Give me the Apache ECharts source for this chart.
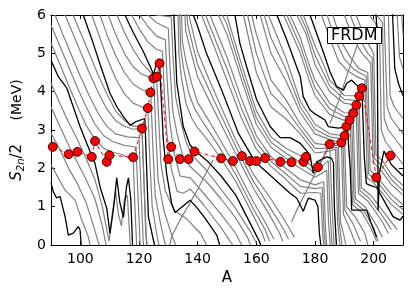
<!DOCTYPE html>
<html><head><meta charset="utf-8">
<script src="https://cdn.jsdelivr.net/npm/echarts@6/dist/echarts.min.js"></script>
<style>html,body{margin:0;padding:0;background:#fff}#c{width:415px;height:296px}</style>
</head><body><div id="c"></div>
<script>
// x tick labels
const xTicks = [100,120,140,160,180,200];
// red r-process path points
const pathA = [90.6,96.0,99.0,103.9,105.0,109.0,109.9,118.0,121.0,123.0,123.9,124.9,126.1,127.0,130.0,131.0,134.0,136.9,138.9,148.0,152.0,155.1,157.9,160.0,163.0,168.2,172.0,176.1,176.9,181.0,185.0,189.0,190.1,190.7,191.8,193.0,194.1,195.1,196.0,200.9,205.7];
const pathS = [2.56,2.37,2.43,2.30,2.71,2.17,2.34,2.29,3.04,3.57,3.98,4.35,4.39,4.74,2.24,2.56,2.24,2.24,2.44,2.26,2.19,2.32,2.19,2.19,2.27,2.17,2.16,2.17,2.30,2.03,2.63,2.67,2.85,3.09,3.26,3.44,3.65,3.89,4.09,1.76,2.33];

// isotopic chains [A, S2n/2]
const z30 = [[90,1.62],[90.8,1.39],[91.9,1.23],[93.1,1.26],[94.8,0.74],[95.9,0.26],[97.6,0.31],[99.3,0.48],[99.9,0.39],[100.3,0]];
const z31 = [[90,2.09],[92.5,1.75],[94.8,1.43],[98.2,1.17],[100.5,0.65],[102.7,0.22],[103.3,0]];
const z32 = [[90,2.92],[93,2.5],[96,2.0],[99,1.6],[102,1.1],[104.5,0.5],[106,0.1],[106.5,0]];
const z33 = [[90,3.6],[93,3.1],[96,2.6],[99,2.15],[102,1.7],[105,1.2],[107.5,0.5],[108.5,0.1],[108.8,0]];
const z34 = [[90,4.22],[93,3.7],[96,3.2],[99,2.75],[102,2.25],[105,1.7],[107.5,1.0],[109,0.4],[109.8,0.1],[111,0.9],[112,1.4],[113,0.8],[114,0.5],[115,1.2],[116,1.3],[116.8,0.3],[117,0]];
const z35 = [[90,4.82],[92.5,4.39],[95.4,4.09],[99.9,3.09],[102.2,2.65],[105,2.13],[106.7,1.52],[109,0.96],[110.1,0.3],[110.6,0.25],[111.4,1.0],[112.4,1.75],[113.5,1.1],[114.7,0.72],[115.7,1.5],[116.4,1.75],[117.2,1.2],[117.8,0]];
const z36 = [[90,5.27],[93,4.72],[96,4.17],[99,3.62],[102,3.12],[105,2.75],[108,2.52],[111,2.42],[114,2.36],[116,2.3],[118,2.29],[118.6,1.0],[119.2,0]];
const z37 = [[90,5.74],[93,5.2],[96,4.65],[99,4.1],[102,3.6],[105,3.15],[108,2.85],[111,2.7],[115,2.6],[119,2.55],[119.7,1.2],[120.4,0]];
const z38 = [[91.4,6],[94,5.5],[97,4.95],[100,4.4],[103,3.9],[106,3.45],[109,3.1],[112,2.9],[116,2.82],[120,2.8],[120.7,1.4],[121.5,0]];
const z38x = [[94.8,6],[97,5.6],[100,5.05],[103,4.5],[106,4.0],[109,3.55],[112,3.25],[115,3.1],[118,3.02],[121,3.04],[121.6,1.8],[122.3,0.3],[122.6,0]];
const z39 = [[97.5,6],[100,5.55],[103,5.0],[106,4.45],[109,3.95],[112,3.5],[115,3.25],[118,3.1],[121,3.1],[121.7,1.7],[122.5,0.2],[122.8,0]];
const z40 = [[101,6],[104,5.35],[107,4.65],[110.1,3.96],[112.5,3.6],[114.7,3.35],[117,3.12],[119,3.22],[122,3.3],[122.6,2.0],[123.2,0.74],[124.9,0.13],[125.3,0]];
const z41 = [[103.9,6],[106,5.55],[109,4.9],[112,4.35],[115,3.95],[118,3.7],[121,3.6],[123,3.57],[123.7,2.2],[124.5,1.0],[126,0.3],[126.8,0]];
const z42 = [[106.7,6],[109,5.5],[112,4.95],[115,4.5],[118,4.2],[121,4.05],[124,3.98],[124.7,2.6],[125.5,1.3],[127.5,0.5],[129,0]];
const z43 = [[109.5,6],[112,5.5],[115,5.0],[118,4.65],[121,4.45],[125,4.35],[125.7,3.0],[126.5,1.7],[128.5,0.9],[131,0.3],[132.5,0]];
const z44 = [[112.5,6],[115,5.55],[118,5.1],[121,4.75],[124,4.5],[126,4.39],[126.7,3.3],[127.5,2.1],[129,1.4],[132,0.9],[136,0.7],[141,0.3],[143,0]];
const z45 = [[115.2,6],[118,5.55],[121.5,5.04],[124.3,4.57],[125,4.45],[125.8,4.7],[127,4.74],[127.6,3.8],[128.3,2.74],[129.4,1.87],[131.1,1.09],[132.3,0.85],[134,0.95],[137.4,1.17],[140,0.95],[142.5,0.7],[146.5,0.26],[147.5,0]];
const z46 = [[117.5,6],[120,5.65],[123,5.3],[126,5.1],[128,5.05],[128.6,4.0],[129.5,2.9],[131,2.0],[133,1.4],[135,1.35],[137.5,1.46],[142,1.05],[148,0.45],[151,0.1],[152,0]];
const z47 = [[120.3,6],[123,5.7],[126,5.45],[129,5.35],[129.6,4.3],[130.5,3.2],[132,2.4],[134,1.8],[137.5,1.75],[142,1.35],[148,0.8],[153,0.3],[155,0]];
const z48 = [[123,6],[126,5.8],[130,5.65],[130.6,4.6],[131.5,3.5],[133,2.9],[135,2.3],[137.5,2.04],[143,1.65],[148,1.2],[153,0.7],[157,0.2],[158,0]];
const z49 = [[125.5,6],[128,5.98],[131,5.95],[131.6,4.9],[132.5,3.85],[134,3.3],[136,2.7],[138,2.35],[143,1.95],[148,1.45],[153,0.95],[158,0.35],[160,0.05]];
const z50 = [[131.7,6.3],[132.3,5.3],[132.9,4.22],[135.1,3.09],[137.4,2.61],[140,2.4],[143.6,2.17],[148,1.8],[153,1.3],[156,0.85],[159,0.4],[161,0.1],[161.5,0]];
const z51 = [[133.2,6.3],[133.6,5.0],[134.4,4.4],[136,3.7],[138,3.3],[140,3.06],[144,2.68],[148,2.25],[153,1.66],[159,0.76],[162,0.3],[163,0.1]];
const z51b = [[133.8,6.3],[134.2,5.15],[135.2,4.6],[137,3.95],[139,3.55],[141,3.3],[144,2.95],[148,2.48],[153,1.84],[159,0.94],[163,0.4],[164.5,0.1]];
const z52 = [[134.4,6.3],[134.8,5.3],[136,4.8],[138,4.2],[140,3.72],[144,3.22],[148,2.7],[153,2.02],[159,1.12],[163,0.6],[166,0.15]];
const z53 = [[135.5,6.3],[135.9,5.6],[137.5,5.1],[140,4.38],[144,3.76],[148,3.15],[153,2.38],[159,1.48],[164,0.85],[168,0.3],[169,0.1]];
const z53b = [[136.1,6.3],[136.6,5.75],[138.5,5.15],[140,4.7],[144,4.03],[148,3.38],[153,2.56],[159,1.66],[164.5,1.0],[169,0.45],[171,0.15]];
const z54 = [[136.8,6.3],[137.3,5.9],[140,5.04],[144,4.3],[148,3.6],[153,2.74],[159,1.84],[165,1.2],[170,0.6],[173,0.2]];
const z55 = [[138.5,6],[140,5.7],[143,5.0],[148.2,4.04],[153.9,2.91],[159.6,2.17],[166.4,1.7],[171.5,1.35],[173.8,1.22],[176,0.88],[177.7,1.22],[180,1.17],[181,1.0],[181.5,0.3],[182,0]];
const z56 = [[141.3,6],[145,5.3],[150,4.3],[155,3.3],[160,2.5],[165,2.05],[170,1.72],[175,1.35],[180,1.37],[182,1.35],[182.6,0.3],[183,0]];
const z56b = [[142.7,6],[145,5.55],[150,4.6],[155,3.55],[160,2.68],[165,2.18],[170,1.86],[175,1.53],[180,1.47],[182.5,1.5],[183.1,0.35],[183.5,0]];
const z57 = [[144.2,6],[150,4.9],[155,3.8],[160,2.85],[165,2.3],[170,2.0],[175,1.7],[180,1.57],[183,1.65],[183.6,0.4],[184,0]];
const z58 = [[147,6],[150,5.5],[155,4.3],[160,3.15],[165,2.55],[170,2.27],[175,2.0],[180,1.77],[184,1.95],[184.6,0.6],[185.2,0]];
const z58b = [[148.4,6],[150,5.75],[155,4.5],[160,3.32],[165,2.68],[170,2.4],[175,2.16],[180,1.87],[184.5,2.2],[185.1,0.9],[185.8,0]];
const z59 = [[149.9,6],[155,4.7],[160,3.5],[165,2.82],[170,2.53],[175,2.33],[180,1.97],[183,2.3],[185,2.63],[185.7,1.2],[186.5,0]];
const z60 = [[152.7,6],[154.4,5.26],[156.7,4.65],[160.1,3.79],[164.7,3.09],[168.1,2.8],[171.5,2.8],[175,2.65],[178.3,2.35],[179.4,1.87],[180.6,2.17],[184,2.3],[185.7,2.26],[186.3,2.13],[186.6,1.0],[187.3,0]];
const z61 = [[155.6,6],[160,4.5],[165,3.6],[170,3.3],[175,2.9],[180,2.4],[185,2.45],[187,2.5],[187.7,0.6],[188.5,0]];
const z61b = [[157,6],[160,5.0],[165,3.95],[170,3.55],[175,3.02],[180,2.52],[185,2.52],[187.5,2.55],[188.2,0.6],[189.2,0]];
const z62 = [[158.4,6],[160,5.5],[165,4.3],[170,3.8],[175,3.15],[180,2.65],[185,2.6],[188,2.6],[188.7,0.6],[190,0.2],[190.5,0]];
const z63 = [[161.3,6],[165,5.0],[170,4.3],[175,3.45],[180,2.9],[185,2.75],[189,2.67],[189.7,0.8],[192,0.4],[194,0]];
const z63b = [[162.7,6],[165,5.4],[170,4.6],[175,3.6],[180,3.02],[185,2.82],[189.5,2.76],[190.2,0.9],[193,0.55],[195.5,0.1]];
const z64 = [[164.1,6],[170,4.9],[175,3.75],[180,3.15],[185,2.9],[190,2.85],[190.8,1.0],[194,0.7],[197,0.3],[198,0]];
const z65 = [[167,6],[170.4,5.35],[173,4.8],[175,4.39],[176,3.87],[178.3,3.52],[180,3.42],[183.4,3.26],[184.5,3.09],[188,3.05],[191,3.09],[192,2.0],[192.5,0.91],[197.6,0.91],[199,0.6],[201,0.2]];
const z66 = [[169.3,6],[175,5.0],[178,4.3],[180,3.9],[185,3.4],[190,3.25],[192,3.26],[192.8,1.05],[196,0.85],[199,0.45],[201,0.1]];
const z66b = [[170.4,6],[175,5.2],[178,4.5],[180,4.1],[185,3.55],[190,3.35],[192.5,3.35],[193.3,1.12],[196.5,0.92],[200,0.45],[201.5,0.1]];
const z67 = [[171.5,6],[175,5.4],[178,4.7],[180,4.3],[185,3.7],[190,3.45],[193,3.44],[193.8,1.2],[197,1.0],[201,0.5],[203,0.2]];
const z68 = [[173.8,6],[177,5.5],[180,4.7],[185,4.0],[190,3.7],[194,3.65],[194.8,1.35],[198,1.15],[203,0.6],[205,0.3]];
const z68b = [[174.9,6],[177,5.65],[180,4.95],[185,4.15],[190,3.8],[194.5,3.77],[195.3,1.42],[198.5,1.22],[204,0.65],[206,0.4]];
const z69 = [[176,6],[180,5.2],[183,4.7],[185,4.3],[190,3.9],[195,3.89],[195.8,1.5],[199,1.3],[205,0.7],[208,0.4]];
const z70 = [[178.3,6],[182.8,5.04],[185.1,4.52],[187.4,4.13],[189.7,4.04],[190.8,4.22],[192.5,4.3],[194.2,4.17],[196,4.09],[196.8,2.3],[197.5,1.6],[199,1.55],[201,1.5],[204.4,1.04],[206.6,0.74],[209,0.65],[210,0.75]];
const z71 = [[182.2,6],[185,5.4],[188,4.8],[191,4.55],[194,4.4],[197,4.3],[197.8,1.75],[200,1.62],[203,1.35],[206,1.06],[210,0.8]];
const z71b = [[184.1,6],[187,5.35],[190,4.85],[193,4.6],[195,4.5],[197.5,4.4],[198.3,1.85],[200.5,1.71],[203,1.48],[206,1.19],[210,0.92]];
const z72 = [[186.1,6],[189,5.3],[192,4.9],[195,4.6],[198,4.5],[198.8,1.95],[201,1.8],[203,1.6],[206,1.32],[210,1.05]];
const z73 = [[190,6],[193,5.4],[196,5.0],[199,4.75],[199.8,2.15],[202,2.0],[206,1.58],[210,1.3]];
const z73b = [[192,6],[195,5.4],[198,5.0],[199.5,4.88],[200.3,2.25],[202.5,2.1],[206,1.71],[210,1.42]];
const z74 = [[194,6],[197,5.4],[200,5.0],[200.8,2.35],[203,2.2],[206,1.84],[210,1.55]];
const z75 = [[200.5,6.3],[201.2,5.6],[201.4,3.0],[201.5,0.9],[202,1.9],[203.5,2.45],[206,2.1],[210,1.8]];
const z76 = [[198.5,6],[200.5,5.8],[202,5.55],[202.6,3.0],[204,2.7],[207,2.4],[210,2.1]];
const z77 = [[201,6],[203,5.8],[203.6,3.3],[205,3.0],[208,2.7],[210,2.5]];
const z78 = [[203.5,6.1],[204.6,3.6],[206,3.3],[210,2.9]];
const z79 = [[205,6.2],[205.6,3.9],[207,3.6],[210,3.3]];
const z80 = [[206.3,6.3],[207.2,4.6],[208.5,4.2],[210,3.9]];
const z81 = [[207.8,6.3],[208.8,4.9],[210,4.6]];
const z82 = [[209.3,6.3],[210,5.5]];
// kink ridges seen crossing the chains
const ridge1 = [[130.5,0],[131.1,0.22],[134,0.65],[137,1.05],[140,1.45],[143,1.9],[145.3,2.22]];
const ridge2 = [[172,0.6],[173.8,0.91],[177,1.4],[180,1.85],[183,2.3],[185.1,2.65]];
const ridge3 = [[185.1,3.17],[188,3.75],[191,4.45],[194.2,5.17],[195.5,5.5]];

const grayChains = [z31,z32,z33,z34,z36,z37,z38,z38x,z39,z41,z42,z43,z44,z46,z47,z48,z49,z51,z51b,z52,z53,z53b,z54,z56,z56b,z57,z58,z58b,z59,z61,z61b,z62,z63,z63b,z64,z66,z66b,z67,z68,z68b,z69,z71,z71b,z72,z73,z73b,z74,z76,z77,z78,z79,z81,z82,ridge1,ridge2,ridge3];
const blackChains = [z30,z35,z40,z45,z50,z55,z60,z65,z70,z75,z80];

const FONT = 'DejaVu Sans';
const series = [];
grayChains.forEach(d => series.push({type:'line', data:d, showSymbol:false, silent:true, z:2,
  lineStyle:{color:'#808080', width:1.2}, animation:false}));
blackChains.forEach(d => series.push({type:'line', data:d, showSymbol:false, silent:true, z:3,
  lineStyle:{color:'#000000', width:1.3}, animation:false}));
series.push({type:'line', data:pathA.map((a,i)=>[a,pathS[i]]), symbol:'circle', symbolSize:9, showAllSymbol:true, z:10,
  lineStyle:{color:'#ff0000', width:1, type:[4,3]}, itemStyle:{color:'#ff0000', borderColor:'#000', borderWidth:0.8}, animation:false});

const axisCommon = {axisLine:{show:true, onZero:false, lineStyle:{color:'#000', width:1}}, splitLine:{show:false}};
const chart = echarts.init(document.getElementById('c'), null, {renderer:'canvas'});
chart.setOption({
  animation:false,
  backgroundColor:'#fff',
  title:{text:'FRDM', left:327, top:27, backgroundColor:'#fff', borderColor:'#000', borderWidth:1, padding:[1,4,0,4],
    textStyle:{fontFamily:FONT, fontSize:16, fontWeight:'normal', color:'#000'}},
  grid:{left:51, right:12, top:15, bottom:51},
  xAxis:[
    Object.assign({type:'value', min:90, max:210, position:'bottom',
      axisTick:{show:true, inside:true, length:4, customValues:xTicks, lineStyle:{color:'#000'}},
      axisLabel:{customValues:xTicks, color:'#000', fontSize:14, fontFamily:FONT, margin:7},
      name:'A', nameLocation:'middle', nameGap:23, nameTextStyle:{fontFamily:FONT, fontSize:15, color:'#000'}}, axisCommon),
    Object.assign({type:'value', min:90, max:210, position:'top',
      axisTick:{show:true, inside:true, length:4, customValues:xTicks, lineStyle:{color:'#000'}},
      axisLabel:{show:false}}, axisCommon)
  ],
  yAxis:[
    Object.assign({type:'value', min:0, max:6, interval:1, position:'left',
      axisTick:{show:true, inside:true, length:4, lineStyle:{color:'#000'}},
      axisLabel:{color:'#000', fontSize:14, fontFamily:FONT, margin:5},
      name:'{s|S}{sub|2n}{n|/2}       {m|(MeV)}', nameLocation:'middle', nameGap:24,
      nameTextStyle:{color:'#000', rich:{
        s:{fontFamily:FONT, fontStyle:'italic', fontSize:15, lineHeight:18, verticalAlign:'middle', color:'#000'},
        sub:{fontFamily:FONT, fontStyle:'italic', fontSize:10, lineHeight:18, verticalAlign:'bottom', color:'#000'},
        n:{fontFamily:FONT, fontSize:15, lineHeight:18, verticalAlign:'middle', color:'#000'},
        m:{fontFamily:FONT, fontSize:14, lineHeight:18, verticalAlign:'middle', color:'#000'}}}}, axisCommon),
    Object.assign({type:'value', min:0, max:6, interval:1, position:'right',
      axisTick:{show:true, inside:true, length:4, lineStyle:{color:'#000'}},
      axisLabel:{show:false}}, axisCommon)
  ],
  series: series
});
</script></body></html>
